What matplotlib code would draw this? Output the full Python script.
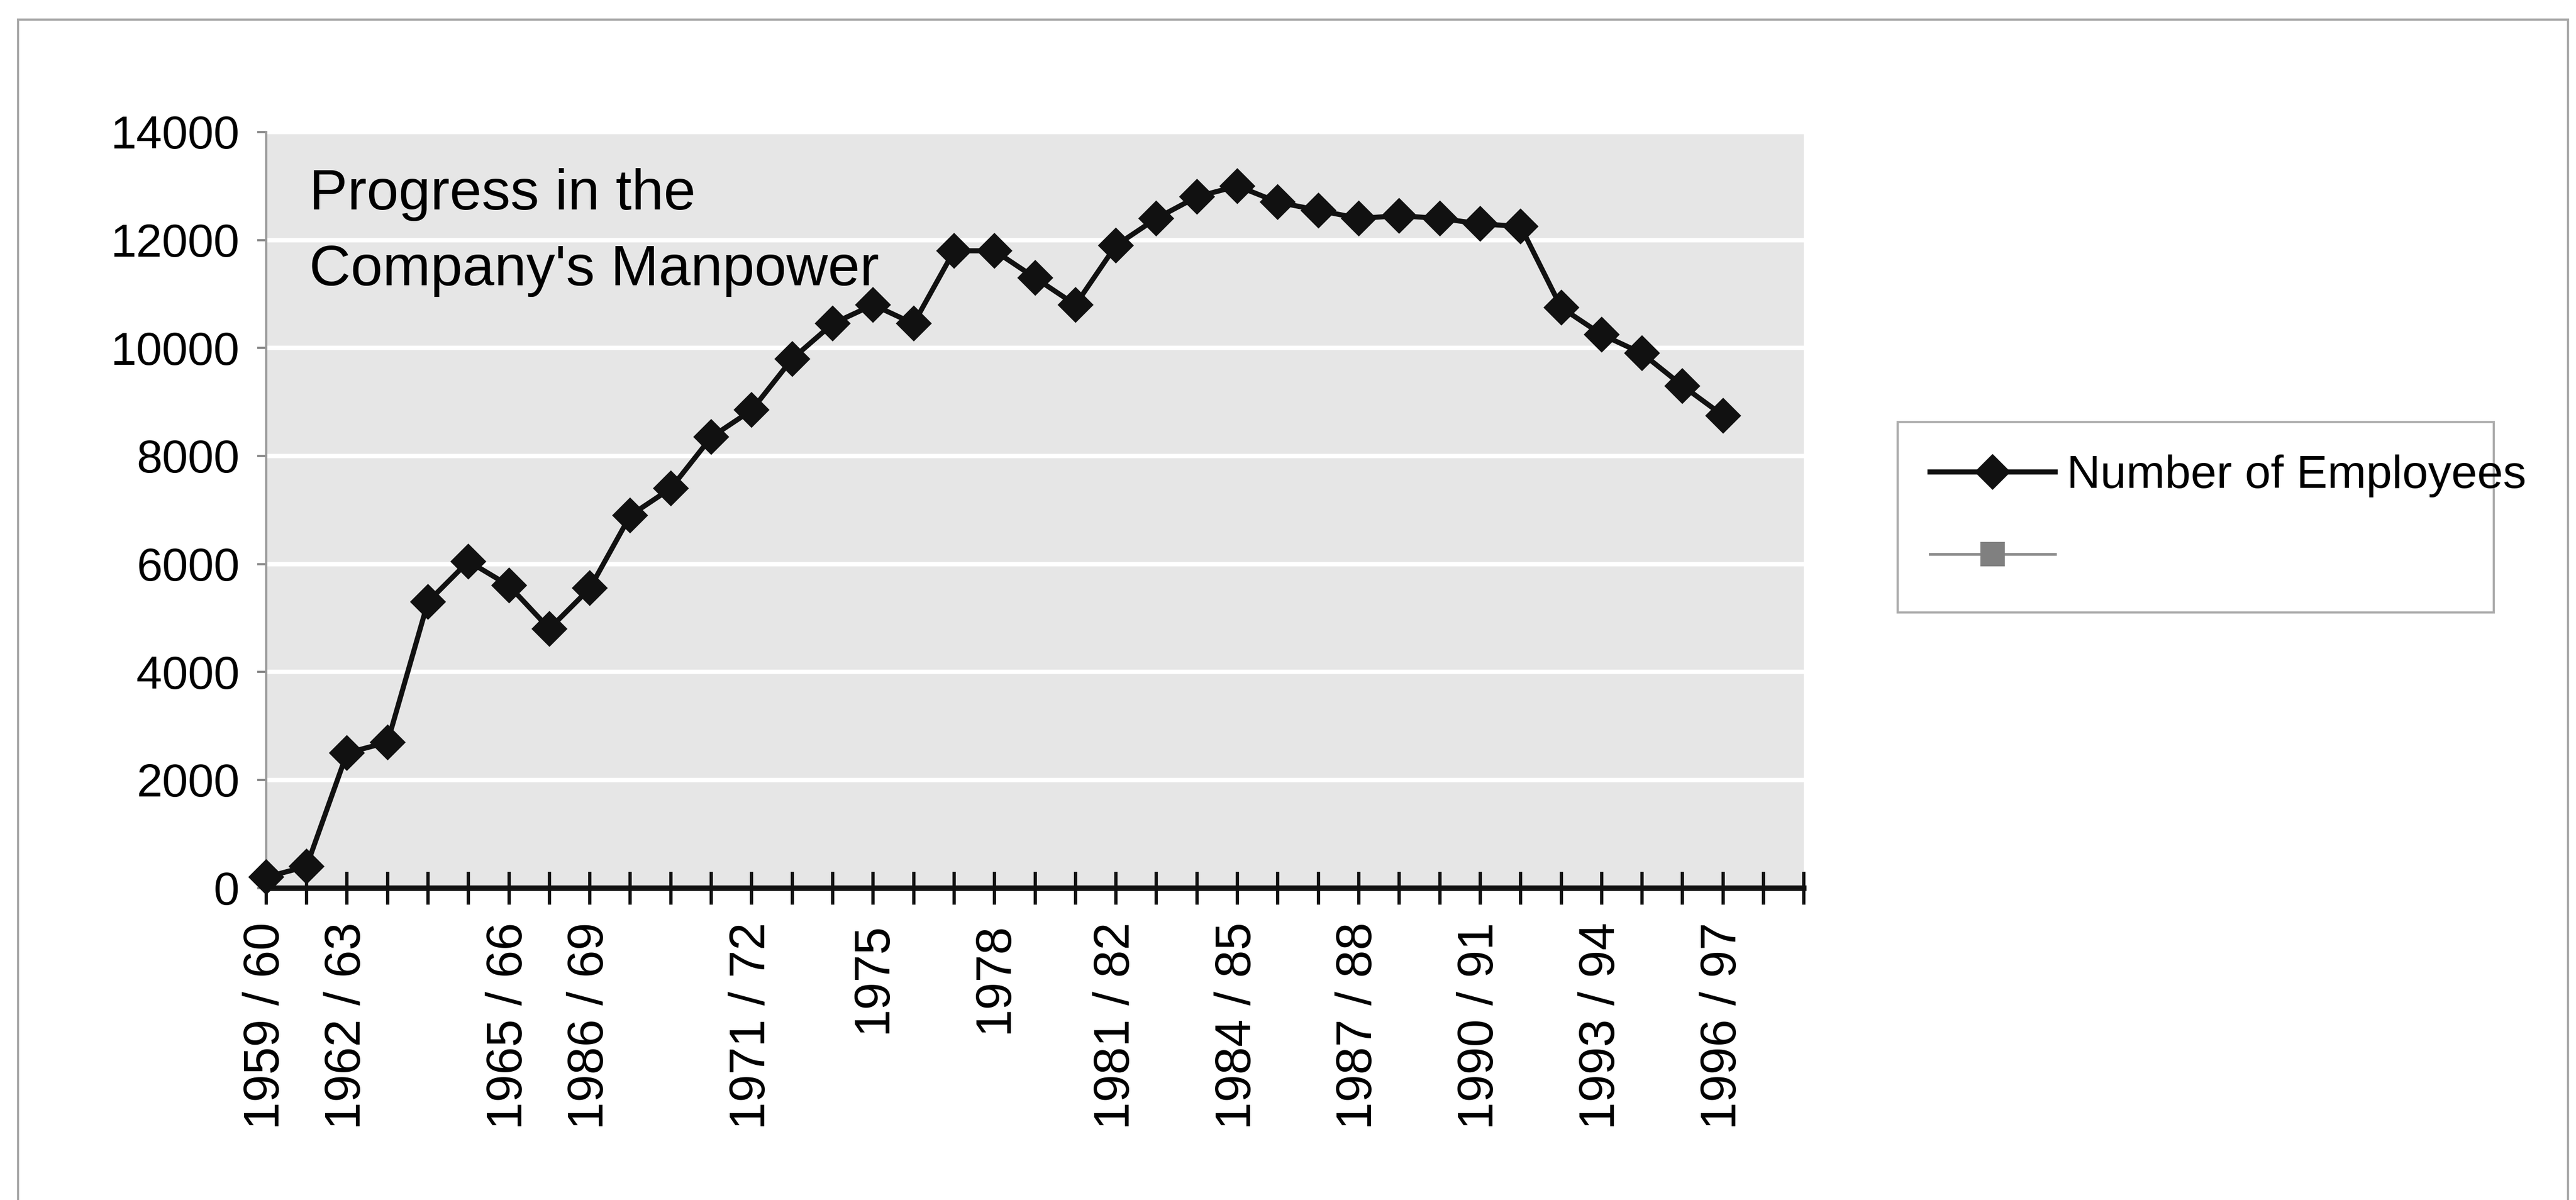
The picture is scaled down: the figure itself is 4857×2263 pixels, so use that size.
import matplotlib
matplotlib.use("Agg")
import matplotlib.pyplot as plt
from matplotlib.patches import Rectangle

plt.rcParams['font.family'] = ['Liberation Sans', 'DejaVu Sans']

# number of employees per year
employees = [200, 400, 2500, 2700, 5300, 6050, 5600, 4800, 5550, 6900,
             7400, 8350, 8850, 9800, 10450, 10800, 10450, 11800, 11800, 11300,
             10800, 11900, 12400, 12800, 13000, 12700, 12550, 12400, 12450, 12400,
             12300, 12250, 10750, 10250, 9900, 9300, 8750]

# category labels as printed under the axis (index -> text)
label_pos = [0, 2, 6, 8, 12, 15, 18, 21, 24, 27, 30, 33, 36]
label_txt = ["1959 / 60", "1962 / 63", "1965 / 66", "1986 / 69", "1971 / 72",
             "1975", "1978", "1981 / 82", "1984 / 85", "1987 / 88",
             "1990 / 91", "1993 / 94", "1996 / 97"]
n_ticks = 39
y_ticks = [0, 2000, 4000, 6000, 8000, 10000, 12000, 14000]

fig = plt.figure(figsize=(4857 / 300, 2263 / 300), dpi=300)
ax = fig.add_axes([0.1033, 0.260, 0.597, 0.630])

ax.set_facecolor('#e6e6e6')
ax.set_xlim(0, n_ticks - 1)
ax.set_ylim(0, 14000)

# white horizontal gridlines
ax.set_yticks(y_ticks)
ax.yaxis.grid(True, color='white', linewidth=2)
ax.set_axisbelow(True)

x = list(range(len(employees)))
ax.plot(x, employees, color='#111111', linewidth=2.3, marker='D',
        markersize=10.5, markerfacecolor='#111111', markeredgecolor='#111111',
        clip_on=False, zorder=5)
# empty second series, only shows in the legend
empty, = ax.plot([], [], color='#888888', linewidth=1.2, marker='s',
                 markersize=10, markerfacecolor='#808080',
                 markeredgecolor='#808080')

labels = [''] * n_ticks
for p, t in zip(label_pos, label_txt):
    labels[p] = t
ax.set_xticks(range(n_ticks))
ax.set_xticklabels(labels, rotation=90, fontsize=22.5)
ax.tick_params(axis='x', direction='inout', length=15, width=1.5,
               color='#111111', pad=8)
ax.tick_params(axis='y', direction='out', length=4, width=1,
               color='#888888', pad=8, labelsize=21)

for s in ['top', 'right']:
    ax.spines[s].set_visible(False)
ax.spines['left'].set_color('#999999')
ax.spines['left'].set_linewidth(1)
ax.spines['bottom'].set_color('#111111')
ax.spines['bottom'].set_linewidth(2.5)
ax.spines['bottom'].set_zorder(6)

ax.text(0.028, 0.952, "Progress in the\nCompany's Manpower",
        transform=ax.transAxes, fontsize=26, va='top', ha='left',
        linespacing=1.55)

# legend box is narrower than its text in the original
handles = [ax.lines[0], empty]
leg = fig.legend(handles, ["Number of Employees", ""],
                 loc='center left', bbox_to_anchor=(0.7366, 0.491, 0.2315, 0.156),
                 mode='expand', borderaxespad=0, fontsize=21, frameon=True,
                 fancybox=False, edgecolor='#999999', handlelength=2.7,
                 handletextpad=0.25, labelspacing=0.85, borderpad=0.7)
leg.get_frame().set_linewidth(1)

# thin frame around the chart area
fig.patches.append(Rectangle((0.007, -0.01), 0.99, 0.9936,
                             transform=fig.transFigure, fill=False,
                             edgecolor='#aaaaaa', linewidth=1))

fig.savefig('out.png', dpi=300, facecolor='white')
